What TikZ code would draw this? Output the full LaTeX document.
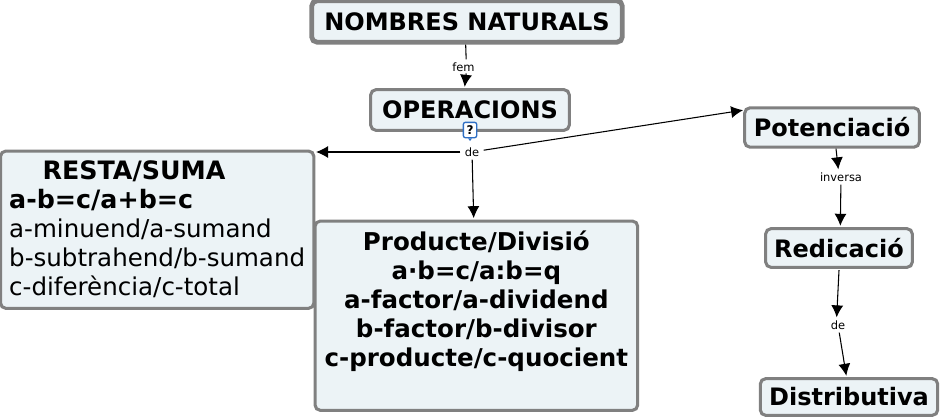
\documentclass[tikz,border=0pt]{standalone}
\usepackage{fontspec}
\setmainfont{DejaVu Sans}
\usetikzlibrary{arrows.meta,positioning}
\definecolor{boxfill}{HTML}{ECF3F6}
\definecolor{boxline}{HTML}{808080}
\definecolor{iconline}{HTML}{2F6FC4}
\newcommand{\restabold}[1]{{\fontsize{19}{21.8}\selectfont\bfseries #1}}
\tikzset{
  concept/.style={draw=boxline,fill=boxfill,line width=2.3pt,rounded corners=4pt,inner sep=0pt,
                  font=\fontsize{18}{20}\selectfont\bfseries},
  bigbox/.style={concept,align=center,font=\fontsize{18.4}{21.8}\selectfont},
  linklabel/.style={inner xsep=3pt,inner ysep=2pt,font=\fontsize{8.6}{10}\selectfont},
}
\begin{document}
\begin{tikzpicture}[x=0.75pt,y=-0.75pt,>={Latex[length=9pt,width=9pt]},line width=0.8pt]
  \useasboundingbox (0,0) rectangle (940,418);

  \node[concept,line width=3.6pt,minimum width=233pt,minimum height=31pt] (Nombres) at (467,21.5) {NOMBRES NATURALS};
  \node[concept,minimum width=149pt,minimum height=30.5pt] (Operacions) at (470,110) {OPERACIONS};
  \node[concept,minimum width=131pt,minimum height=29.5pt] (Potencia) at (832,127.5) {Potenciació};
  \node[concept,minimum width=110pt,minimum height=29pt] (Redica) at (839,248) {Redicació};
  \node[concept,minimum width=133pt,minimum height=27.5pt] (Distrib) at (849,397) {Distributiva};
  \node[bigbox,align=left,anchor=north west,minimum width=235pt,minimum height=118pt,
        text width=225pt,inner xsep=5pt] (Resta) at (-1,149.5)
       {\hspace*{1.5pt}\hspace*{25pt}\restabold{RESTA/SUMA}\\ \hspace*{1.5pt}\restabold{a-b=c/a+b=c}\\ \hspace*{1.5pt}a-minuend/a-sumand\\
        \hspace*{1.5pt}b-subtrahend/b-sumand\\ \hspace*{1.5pt}c-diferència/c-total\\[-19.5pt]\mbox{}};
  \node[bigbox,anchor=north west,minimum width=242pt,minimum height=142pt] (Producte) at (313.5,219.5)
       {\textbf{Producte/Divisió}\\ \textbf{a·b=c/a:b=q}\\ \textbf{a-factor/a-dividend}\\
        \textbf{b-factor/b-divisor}\\ \textbf{c-producte/c-quocient}\\[4pt]\mbox{}};

  \node[linklabel] (fem) at (463.5,67) {fem};
  \node[linklabel] (de1) at (472,152) {de};
  \node[linklabel] (inversa) at (841,177) {inversa};
  \node[linklabel] (de2) at (838,325) {de};
  \node[draw=iconline,fill=white,rounded corners=1.5pt,line width=1pt,inner sep=1pt,
        minimum width=10pt,minimum height=11.5pt,font=\fontsize{9}{9}\selectfont\bfseries] (help) at (470,130) {?};
  \fill[iconline] ([xshift=-1.5pt]help.south) -- ([xshift=1.5pt]help.south) -- ([yshift=-2pt]help.south) -- cycle;

  \draw ([xshift=-1pt]Nombres.south) -- ([xshift=2pt]fem.north);
  \draw[->] ([xshift=2pt]fem.south) ++(0,1pt) -- ([xshift=-4pt,yshift=1pt]Operacions.north);
  \draw[->] (de1) -- ([xshift=0.5pt]de1 -| Resta.east);
  \draw[->] (de1) -- ([xshift=-2pt,yshift=1pt]Producte.north);
  \draw[->] (de1) -- ([xshift=0pt,yshift=13pt]Potencia.west);
  \draw[->] ([xshift=3pt]Potencia.south) -- ([xshift=-2pt]inversa.north);
  \draw[->] (inversa) -- ([xshift=1pt,yshift=1pt]Redica.north);
  \draw[->] ([xshift=0pt,yshift=-1pt]Redica.south) -- ([xshift=-1pt]de2.north);
  \draw[->] (de2) -- ([xshift=-2pt,yshift=1pt]Distrib.north);
\end{tikzpicture}
\end{document}
